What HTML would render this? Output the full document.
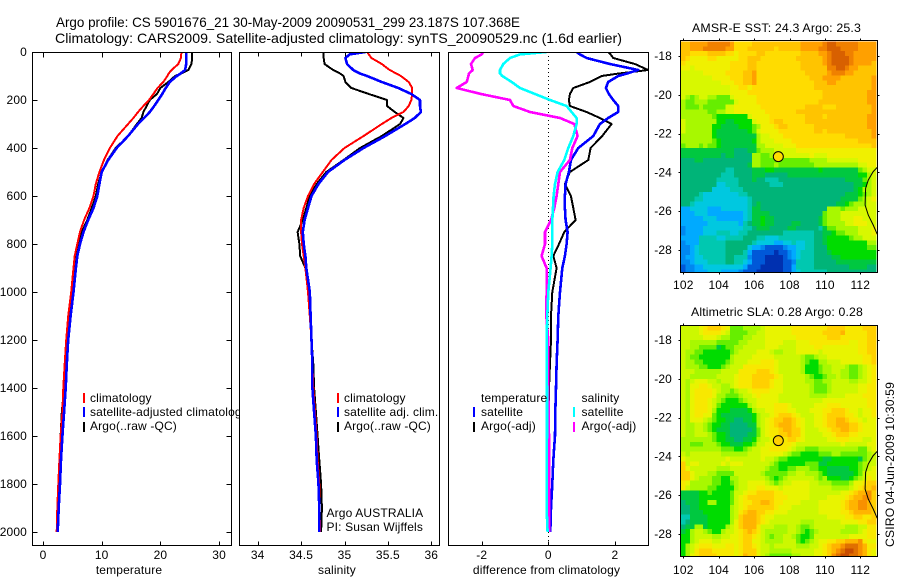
<!DOCTYPE html>
<html lang="en">
<head>
<meta charset="utf-8">
<title>Argo profile</title>
<style>
html,body{margin:0;padding:0;background:#fff;}
svg{display:block;}
text{font-family:"Liberation Sans",sans-serif;font-size:12px;fill:#000;letter-spacing:.15px;}
.title{font-size:14px;letter-spacing:0;}
</style>
</head>
<body>
<svg id="chart" xmlns="http://www.w3.org/2000/svg" width="900" height="580" viewBox="0 0 900 580">
<rect x="0" y="0" width="900" height="580" fill="#fff"/>
<text class="title" x="56" y="27" textLength="464" lengthAdjust="spacingAndGlyphs">Argo profile: CS 5901676_21 30-May-2009 20090531_299 23.187S 107.368E</text>
<text class="title" x="55" y="43" textLength="567" lengthAdjust="spacingAndGlyphs">Climatology: CARS2009. Satellite-adjusted climatology: synTS_20090529.nc (1.6d earlier)</text>
<text x="692" y="32" textLength="169" lengthAdjust="spacingAndGlyphs">AMSR-E SST: 24.3 Argo: 25.3</text>
<text x="691" y="316" textLength="172" lengthAdjust="spacingAndGlyphs">Altimetric SLA: 0.28 Argo: 0.28</text>
<text transform="translate(894,547) rotate(-90)" textLength="165" lengthAdjust="spacingAndGlyphs">CSIRO 04-Jun-2009 10:30:59</text>
</svg>
<script>
var depths = [0,10,25,50,75,90,100,125,150,175,200,225,250,275,300,350,400,450,500,550,600,650,700,750,800,850,900,1000,1100,1200,1300,1400,1500,1600,1700,1800,1900,2000];

var tempClim = [23.6,23.55,23.5,23.05,21.9,21.4,21.2,20.5,19.5,18.8,18.05,17.1,16.2,15.4,14.5,12.7,11.4,10.4,9.6,9.0,8.6,7.9,7.0,6.3,5.85,5.4,5.2,4.8,4.3,3.95,3.7,3.46,3.3,3.0,2.8,2.6,2.44,2.33];
var tempSat = [24.4,24.4,24.4,24.4,24.2,23.4,22.8,21.6,20.9,20.3,19.65,18.95,18.2,17.2,16.2,14.5,12.55,11.1,10,9.6,9.25,8.6,7.7,6.9,6.3,5.85,5.6,5.2,4.7,4.3,4.05,3.86,3.6,3.3,3.07,2.9,2.67,2.5];
var tempArgo = [25.4,25.4,25.4,25.3,24.75,23.5,22.5,21.35,20,19.4,18.2,17.65,17.1,16.8,16,14.5,12.4,11,10,9.4,9,8.3,7.55,6.6,6,5.6,5.3,4.9,4.4,4,3.8,3.6,3.2,3,2.8,2.6,2.5,2.4];

var salClim = [35.26,35.28,35.31,35.43,35.52,35.6,35.65,35.74,35.78,35.78,35.77,35.74,35.68,35.54,35.43,35.22,35.0,34.85,34.75,34.65,34.58,34.53,34.5,34.5,34.51,34.53,34.55,34.58,34.6,34.62,34.63,34.64,34.66,34.68,34.69,34.71,34.71,34.72];
var salSat = [35.24,35.06,35.01,35.03,35.1,35.18,35.26,35.43,35.62,35.77,35.87,35.87,35.88,35.81,35.7,35.47,35.22,35.0,34.81,34.7,34.62,34.58,34.54,34.52,34.53,34.55,34.56,34.6,34.61,34.62,34.63,34.63,34.65,34.67,34.68,34.7,34.71,34.71];
var salArgo = [34.76,34.76,34.76,34.77,34.87,34.95,34.99,35.01,35.08,35.28,35.49,35.49,35.58,35.68,35.64,35.43,35.18,34.99,34.79,34.68,34.6,34.56,34.52,34.46,34.48,34.49,34.55,34.58,34.6,34.62,34.64,34.65,34.67,34.69,34.71,34.73,34.74,34.73];

var diffTempSat = [0.85,0.95,1.15,1.85,2.7,2.35,2.1,1.8,1.73,1.82,1.95,2.1,2.1,1.8,1.55,1.35,0.9,0.68,0.62,0.52,0.5,0.5,0.52,0.58,0.55,0.5,0.42,0.35,0.3,0.28,0.25,0.23,0.21,0.2,0.15,0.12,0.08,0.06];
var diffTempArgo = [1.8,1.87,1.95,2.6,3.0,2.1,1.6,1.25,0.75,0.65,0.62,0.65,1.15,1.55,1.9,1.62,1.27,1.2,0.65,0.5,0.68,0.75,0.82,0.48,0.32,0.15,0.25,0.12,0.08,0.08,0.05,0.02,0.02,0.02,0,0,0,0];
var diffSalSat = [-0.05,-0.85,-1.15,-1.35,-1.45,-1.45,-1.38,-1.1,-0.85,-0.4,0.05,0.55,0.7,0.85,0.85,0.75,0.6,0.48,0.28,0.2,0.16,0.14,0.12,0.12,0.12,0.1,0.07,0,-0.03,-0.05,-0.05,-0.04,-0.04,-0.04,-0.05,-0.05,-0.05,-0.02];
var diffSalArgo = [-1.95,-2,-2.2,-2.32,-2.27,-2.38,-2.4,-2.45,-2.75,-2.02,-1.15,-1.05,-0.55,0.35,0.78,0.88,0.72,0.65,0.35,0.3,0.25,0.18,0.08,-0.1,-0.1,-0.2,-0.05,-0.05,-0.06,0,0,0,0.01,0.02,0.03,0.03,0.03,0.03];

var depthTicks = [0,200,400,600,800,1000,1200,1400,1600,1800,2000];
var tempTicks = [0,10,20,30];
var salTicks = [34,34.5,35,35.5,36];
var diffTicks = [-2,0,2];
var lonTicks = [102,104,106,108,110,112];
var latTicks = [18,20,22,24,26,28];

var coastLon = [112.96,112.73,112.45,112.3,112.27,112.45,112.73,112.96];
var coastLat = [23.74,23.96,24.39,24.82,25.68,26.2,26.71,27.19];
var profileLon = [107.368];
var profileLat = [23.187];

var sstRows = [
"ooppppqqqqq pnnnnoooooo ooooopppppq rrqqqqqpppp",
"oopppqqqqqp pnnnoooooon oooooppppqq rrrqqqqpppp",
"oonnnnoooon nmnnnnoonnn nnnnnoooopp qrrrqqppppp",
"onmmmmnnmmm mmnnooonnnn nnnnoooooop qrrrrqppppp",
"nmmmmmmmmmm nnnnoonnnnn nnnnnooooop qrrrrqppppo",
"mmlmmmmmmmm nnnnoonnnnn nnnnnoooooo qqrrqppoooo",
"lllllmmmmmn nnnoopnnnnn nnnnnnooooo pqqqppooooo",
"lllllllmmmm nnnoopnnnnn nnnnnnnooop pppooooooop",
"lllllllllmm mnnoopnnnnn nnnnnnnnooo ppoooooooop",
"lllllllllll mmnnmnnnnnn nnnnnnnnooo oooooooooop",
"lllllllllll mmmmnnnnnnn nnnnnnnnnno ooooooooopp",
"lkjkllkkjjj lmmmmmnnnnn nnnnnnnnnno ooooooooopp",
"kjjkkkjjjjj jlmmmmnnnnn nnnnnnnnnoo ooooooooopp",
"kjjjkjjjjjl lmmmmmmnnnn nnnnnnoooon nnoooooooop",
"kkkkkkjjkkl lmmmmmmmnnn nnnnooooooo oooooooooop",
"kkkkkkkjiii iiiilmmmmnn nnnnnnoooon ooooooooopp",
"lkkkkkkkiih hiiiilmmmno onnnnnooooo ooooooooopp",
"lkkkkkkiihh hhiiijkmmmn oonnnnnnooo ooooooooopp",
"lkkkkkkihhh hhhhijlmmmm nnnnnnnnoon oooooooooop",
"kkkkkkkihhh hhhhhhkllmm mnnnnnnnnnn nnnnoooooop",
"kkkkkkkjihh hhhhhiklllm mmmnnnnnnnn nnnnnnnoooo",
"jkkkjkjjihh hhhhhhkklll lmmmnnnnnnn nnnnnnnnnno",
"hhhhhhhhhhh hggghhjkkkl llllmmmmmmm mmmmmmmmmmm",
"hhhhhhhhhgh hggggkkjjkk lllllllmlll mmmmmmmmmmm",
"ggghhgggggg gggggkkjjjj jjjjjjjkkkk lllllllmmmm",
"ggggggggggg gggghkkjjjk jjjjjjjjkkk kkkkkkkllmm",
"ggggggggggf fgggghhhiih hhhhhhhhhih hhhhhhhjkll",
"gggggggggff fgggghhhggg gghhhhhhhhh hhhhhhhiikl",
"ggggggggfff ffggghggfff ggggggggggg gggghhhhjkl",
"ggggggggeef ffgggggggff fgggggggggg gggggghhikl",
"gggggggeeee fffgggggggg ggggggggggg gggggghikkl",
"ggggfeeeeee eeffggggggg ggggggggggg gggghhhijkl",
"gggffeeeeee eeeefgggggg ggggggggggg ggghhhhjklm",
"ggfeeeeeeee eeeefghgggg ggggggggggg gghhijkkkll",
"ddeeeedddee eeeefhhgggg ggggggggggg kkkjkkkllll",
"dddeeeddddd dddefhhhhgg ggggggggggj kkkllllllll",
"dddddeeeddd dddefhhihhg ggggggggghj kkklllmmlll",
"ddddddeeeee eedfghhihhg ggghhgggghj kkkkllmmmll",
"cddddeeeeee eeeffghhhgg gghhgggggfh jjkkkkklllm",
"cddddeeefff eeffggggggg gfffffffggh hijjkkklllm",
"ddddffffeef fffgggffeee ffffffffggh iiiiijkklll",
"cdddffffffg gggggfeeeed deefeeffggh iiiiiiiiikk",
"ccdeffffffg ggggeddcbbb bcddeeffggg iiiiiiiiijj",
"ccdeffffffg gggfdbbbbba bbcdefffggg hiiiiiiiiii",
"cddeefffffg gfffcbbbaaa abcdefffggg ghhiiiiiiii",
"ccdeeeffffg gffedbbbaaa abbcffffggg gghhhhhhhhh",
"bccddeeeeee eeedbbbaaaa abbdffffggg ggggghhhhgg",
"bccdddeeedd ddcbbbaaaaa abbdeffffff ggggggggggg"
];

var slaRows = [
"llllmnooonm jjjkkkklmmm mmmnnnnnnnn oooonnnnooo",
"llllmnnnnml jjjjkkllmmm mmmnnnnnnno ooopnnnnnoo",
"lllllmmmlkk jjjkklllmmm mmmmnnnnnnn ooonnnnnnoo",
"llkkkkkkjjj jjkkllllmmm mlllmmmnnnn nnnnnmmnnoo",
"llkkjjjjhij jkklllllmmm llllmmmmnnm mmmmmmmnnoo",
"lkkjjiiiiii jkllllmmmlk klllmmmmmlm mmmmmmmnnoo",
"lkjjiiiiiii kllllmmmmml lllllkjjkll mmmmmmmmnno",
"lkkjjiiiiij klllmmmnnnm lllllkjiikk lllmmmmmnno",
"lkkkjjiiijk lllnnnnnnnm lllllkiiijk klllkjjklmn",
"lllkkkkkkll llnnnnooonm lllllkiiijk kllkkjjklmn",
"llkkkkkklll lmnnnooooon mlllllkjiij kklkkjjklmn",
"lklmmmllkll lmnnnoooonm mlllllkkjjk kllllkkllmn",
"lkmmnnmllkk lmnnnoooonm mllllllkjjj kllllllmmnn",
"lkmnnnnmlkk jkllmnnnnmm mllllllkjjj kllllllmmnn",
"lkmnnnnmkkj jjkllmnmmmm lllllllkkkk llllmmmmnnn",
"lkmnnnmlkji iijkllmmmmm llllllllllm mmmmmmmmmnn",
"lkmnnnmljii iiiiklmmmmn nnmlllllmmm nnnmmmmmmnn",
"lkmnnnmkiii hhhhikllmmn nnmmlllmmmn nooonmmlmmn",
"lkmnnmmjihh hhhhhikllmn ooonmlllmmn oooonnmlmmn",
"lkmmmlkjiih hgghhiklmno opponmllmmn oopponnmlmm",
"lkkllkjiihh gggghhklmno ppponmllmmn oopppoonmmm",
"lkkllkjihhh ggggghjlmnn oppoomlllmm nooppoonmmm",
"lkklllkjiih gggghhjlmnn oopoomllllm mnooonnmmmm",
"kkkkkkkjiih hgghhikllmn nnoonmlllll mmnnnmmmllm",
"kkjjjkkkjii hhhiijllmmn nnnmlllllll lllmlllllmm",
"kkkkkkkkkjj jiijkllmmnn nnmlkkjjjkk kkkkkkkjjlm",
"lklllllllkk kkkklllmmmm mlkjjiiiijj jkkjjjjjjkl",
"mlllllllllm lllllllmllk jjiiiiiiiih hiiiiiihjkl",
"olmmlllllml mmmllllllkj iiiiiijjjhh iiiiiiijkll",
"omllllllkkk llllllllkjj iijjkkkjjii hhhhhiijklm",
"oomlllkkjjj jllllllkjjj jjkkllkkkji hhhhhhijlmm",
"oomlkkkjjii kkllllllkji jkllllllkjk iiihhijklnm",
"nmkkkkkjjii jkllmmmmlkj kllmmmmllkk kjjjjkmmnoo",
"nlkkkkjjiii ikllmmnnmmm lmmmmmmllll lkkkklmnoop",
"hhhhiijiiii jllmnnoooon nmmmmmmllll lllmmnoppqo",
"hhhhiiiiiii jlmnoooooon nnmmmmmllll mmmmnoppqqo",
"ghhhiikkiii jlmnnooppon nmmmmllllmm mmmnoppqqpo",
"gghhiiiiiii klmnoooooon mmmllllllmm mmmnoppqqpo",
"gghhhiiiiii klnoppoonnm mmlllllllmm mmmnnoppppo",
"ffhhhhiiiii kloppponmml lllllllllll mmmmnnoonno",
"fghhhhiiiii kmoppponmll lllllkkklll lllmmmmnnoo",
"ghhkkhiiiik lmopppnlllk kkllkjjklll llllkkkllnn",
"hikllkjiikl lmnoponlkkk kkllkjijkll lllkkkklmnn",
"iikllllkkll mmnoonmlkjk kllkjiijlll lllllmmmmnn",
"iiklmmmllmm mmnoommlkkk kllljijklmm nnoopppqnmm",
"iklmnnnmmmn nmnoonmllkl llllkkkllmn oppqrrrqpnn",
"iklnooonnnn nmnooomllkk kkklllllmmn opqrssrqpnm",
"ikmnoooonnn nmnpoomlkjj jjjkklllmmn oqrssrrqpnm"
];

var sstPalette = {a:"#0030b0",b:"#0058d8",c:"#0088f0",d:"#00aaff",e:"#00c8e0",f:"#00c8b0",g:"#00b478",h:"#00c840",i:"#00dc00",j:"#66ee00",k:"#a8f800",l:"#d8f800",m:"#f0f000",n:"#ffdc00",o:"#ffc400",p:"#ffa000",q:"#f08000",r:"#d86000",s:"#c04800"};
var slaPalette = {a:"#0030b0",b:"#0058d8",c:"#0088f0",d:"#00aaff",e:"#00c8e0",f:"#00c8b0",g:"#00b478",h:"#00c840",i:"#00dc00",j:"#66ee00",k:"#a8f800",l:"#ccf800",m:"#e8f400",n:"#f8e800",o:"#ffd000",p:"#ffb400",q:"#f89000",r:"#e07000",s:"#c84c00"};

var NS = "http://www.w3.org/2000/svg";
var svg = document.getElementById("chart");
var TOP = 52, BOTTOM = 545;

function depthY(d){ return TOP + 0.24 * d; }
function tempX(v){ return 43 + 5.87 * v; }
function salX(v){ return 257.7 + 86.8 * (v - 34); }
function diffX(v){ return 548.3 + 33.3 * v; }
function lonX(v){ return 683.3 + 17.7 * (v - 102); }
function mapY(origin){ return function(v){ return origin + 19.4 * (v - 18); }; }

function mk(tag, attrs, parent){
  var el = document.createElementNS(NS, tag);
  for (var k in attrs) el.setAttribute(k, attrs[k]);
  (parent || svg).appendChild(el);
  return el;
}
function tline(x1, y1, x2, y2, name){
  var el = mk("line", {x1:Math.round(x1)+.5, y1:Math.round(y1)+.5, x2:Math.round(x2)+.5, y2:Math.round(y2)+.5, stroke:"#000", "stroke-width":1, "shape-rendering":"crispEdges"});
  
  
  return el;
}
function label(x, y, s, anchor, name){
  var el = mk("text", {x:x, y:y, "text-anchor":anchor || "start"});
  el.textContent = s;
  
  
  return el;
}
function swatch(x, y, color, name){
  var el = mk("rect", {x:x, y:y, width:2, height:10, fill:color, "shape-rendering":"crispEdges"});
  
  
  return el;
}
function frame(L, T, R, B, name){
  var el = mk("rect", {x:L+.5, y:T+.5, width:R-L, height:B-T, fill:"none", stroke:"#000", "stroke-width":1, "shape-rendering":"crispEdges"});
  
  
  return el;
}
function plotBackground(L, T, R, B, name){
  var el = mk("rect", {x:L, y:T, width:R-L, height:B-T, fill:"#fff"});
  
  
  return el;
}
var defs = mk("defs", {});
function clip(id, L, T, R, B){
  var c = mk("clipPath", {id:id}, defs);
  mk("rect", {x:L, y:T, width:R-L, height:B-T}, c);
}
function series(values, xf, color, width, clipId, name){
  var pts = values.map(function(v, i){ return xf(v).toFixed(1) + "," + depthY(depths[i]).toFixed(1); }).join(" ");
  var el = mk("polyline", {points:pts, fill:"none", stroke:color, "stroke-width":width, "shape-rendering":"crispEdges", "stroke-linejoin":"round", "clip-path":"url(#"+clipId+")"});
  
  
  return el;
}

/* Panel 1: temperature */
var p1 = {L:32, R:231};
plotBackground(p1.L, TOP, p1.R, BOTTOM, "temperature-plot-area");
clip("c1", p1.L, TOP, p1.R, BOTTOM);
series(tempArgo, tempX, "#000", 2, "c1", "temperature-argo-line");
series(tempClim, tempX, "#f00", 2, "c1", "temperature-climatology-line");
series(tempSat, tempX, "#00f", 2.6, "c1", "temperature-satellite-line");
frame(p1.L, TOP, p1.R, BOTTOM, "temperature-axes-frame");
depthTicks.forEach(function(d){
  tline(p1.L, depthY(d), p1.L + 5, depthY(d), "depth-tick-left");
  tline(p1.R - 5, depthY(d), p1.R, depthY(d), "depth-tick-right");
  label(27, depthY(d) + 4, String(d), "end", "depth-tick-label");
});
tempTicks.forEach(function(v){
  tline(tempX(v), TOP, tempX(v), TOP + 5, "temperature-tick-top");
  tline(tempX(v), BOTTOM - 4, tempX(v), BOTTOM, "temperature-tick-bottom");
  label(tempX(v), 559, String(v), "middle", "temperature-tick-label");
});
label(129, 574, "temperature", "middle", "temperature-axis-title");
swatch(83, 393, "#f00", "legend-swatch-climatology");
label(90, 402, "climatology", "start", "legend-entry-climatology");
swatch(83, 407, "#00f", "legend-swatch-satellite-adjusted");
label(90, 416, "satellite-adjusted climatology", "start", "legend-entry-satellite-adjusted");
swatch(83, 422, "#000", "legend-swatch-argo");
label(90, 430, "Argo(..raw -QC)", "start", "legend-entry-argo");

/* Panel 2: salinity */
var p2 = {L:239, R:439};
plotBackground(p2.L, TOP, p2.R, BOTTOM, "salinity-plot-area");
clip("c2", p2.L, TOP, p2.R, BOTTOM);
series(salArgo, salX, "#000", 2, "c2", "salinity-argo-line");
series(salClim, salX, "#f00", 2, "c2", "salinity-climatology-line");
series(salSat, salX, "#00f", 2.6, "c2", "salinity-satellite-line");
frame(p2.L, TOP, p2.R, BOTTOM, "salinity-axes-frame");
salTicks.forEach(function(v){
  tline(salX(v), TOP, salX(v), TOP + 4, "salinity-tick-top");
  tline(salX(v), BOTTOM - 4, salX(v), BOTTOM, "salinity-tick-bottom");
  label(salX(v), 559, String(v), "middle", "salinity-tick-label");
});
label(337, 574, "salinity", "middle", "salinity-axis-title");
swatch(337, 393, "#f00", "legend-swatch-climatology");
label(344, 402, "climatology", "start", "legend-entry-climatology");
swatch(337, 407, "#00f", "legend-swatch-satellite");
label(344, 416, "satellite adj. clim.", "start", "legend-entry-satellite");
swatch(337, 422, "#000", "legend-swatch-argo");
label(344, 430, "Argo(..raw -QC)", "start", "legend-entry-argo");
label(326.5, 517, "Argo AUSTRALIA", "start", "argo-program-label");
label(326.5, 531, "PI: Susan Wijffels", "start", "principal-investigator-label");

/* Panel 3: differences */
var p3 = {L:448, R:648};
plotBackground(p3.L, TOP, p3.R, BOTTOM, "difference-plot-area");
clip("c3", p3.L, TOP, p3.R, BOTTOM);
var zeroLine = mk("line", {x1:diffX(0), y1:TOP, x2:diffX(0), y2:BOTTOM, stroke:"#000", "stroke-width":1, "stroke-dasharray":"1 3", "shape-rendering":"crispEdges"});


series(diffTempArgo, diffX, "#000", 2, "c3", "difference-temperature-argo-line");
series(diffTempSat, diffX, "#00f", 2.6, "c3", "difference-temperature-satellite-line");
series(diffSalArgo, diffX, "#f0f", 2.6, "c3", "difference-salinity-argo-line");
series(diffSalSat, diffX, "#0ff", 2.6, "c3", "difference-salinity-satellite-line");
frame(p3.L, TOP, p3.R, BOTTOM, "difference-axes-frame");
diffTicks.forEach(function(v){
  tline(diffX(v), BOTTOM - 4, diffX(v), BOTTOM, "difference-tick-bottom");
  label(diffX(v), 559, String(v), "middle", "difference-tick-label");
});
label(546.5, 574, "difference from climatology", "middle", "difference-axis-title");
label(481, 402, "temperature", "start", "legend-heading-temperature");
swatch(473, 407, "#00f", "legend-swatch-temperature-satellite");
label(481, 416, "satellite", "start", "legend-entry-temperature-satellite");
swatch(473, 422, "#000", "legend-swatch-temperature-argo");
label(481, 430, "Argo(-adj)", "start", "legend-entry-temperature-argo");
label(581.5, 402, "salinity", "start", "legend-heading-salinity");
swatch(573, 407, "#0ff", "legend-swatch-salinity-satellite");
label(581.5, 416, "satellite", "start", "legend-entry-salinity-satellite");
swatch(573, 422, "#f0f", "legend-swatch-salinity-argo");
label(581.5, 430, "Argo(-adj)", "start", "legend-entry-salinity-argo");

/* Maps */
function drawMap(rows, palette, T, B, origin, clipId, prefix, labelY, markerFill){
  var L = 680, R = 877;
  var latY = mapY(origin);
  clip(clipId, L, T, R, B);
  var g = mk("g", {"clip-path":"url(#"+clipId+")", "shape-rendering":"crispEdges"});
  
  
  rows.forEach(function(rowText, r){
    var row = rowText.replace(/ /g, "");
    for (var c = 0; c < 44; c++){
      var x0 = lonX(101.875 + c * 0.25), x1 = lonX(101.875 + (c + 1) * 0.25);
      var y0 = latY(17.25 + r * 0.25), y1 = latY(17.25 + (r + 1) * 0.25);
      var cell = mk("rect", {x:x0.toFixed(2), y:y0.toFixed(2), width:(x1-x0+.5).toFixed(2), height:(y1-y0+.5).toFixed(2), fill:palette[row[Math.min(c, row.length-1)]]}, g);
      
      
    }
  });
  var coast = mk("polyline", {points:coastLon.map(function(v,i){ return lonX(v).toFixed(1)+","+latY(coastLat[i]).toFixed(1); }).join(" "), fill:"none", stroke:"#000", "stroke-width":1, "clip-path":"url(#"+clipId+")"});
  
  
  var marker = mk("circle", {cx:lonX(profileLon[0]), cy:latY(profileLat[0]), r:5, fill:markerFill, stroke:"#000", "stroke-width":1});
  
  
  frame(L, T, R, B, prefix + "-frame");
  lonTicks.forEach(function(v){
    tline(lonX(v), T - 2, lonX(v), T, prefix + "-lon-tick-top");
    tline(lonX(v), B, lonX(v), B + 2, prefix + "-lon-tick-bottom");
    label(lonX(v), labelY, String(v), "middle", prefix + "-lon-label");
  });
  latTicks.forEach(function(v){
    tline(L - 2, latY(v), L, latY(v), prefix + "-lat-tick-left");
    tline(R, latY(v), R + 2, latY(v), prefix + "-lat-tick-right");
    label(672, latY(v) + 4, "-" + v, "end", prefix + "-lat-label");
  });
}
drawMap(sstRows, sstPalette, 40, 272, 56, "c4", "sst-map", 289, "#ffdc00");
drawMap(slaRows, slaPalette, 325, 556, 340, "c5", "sla-map", 574, "#ffd000");
</script>
</body>
</html>
